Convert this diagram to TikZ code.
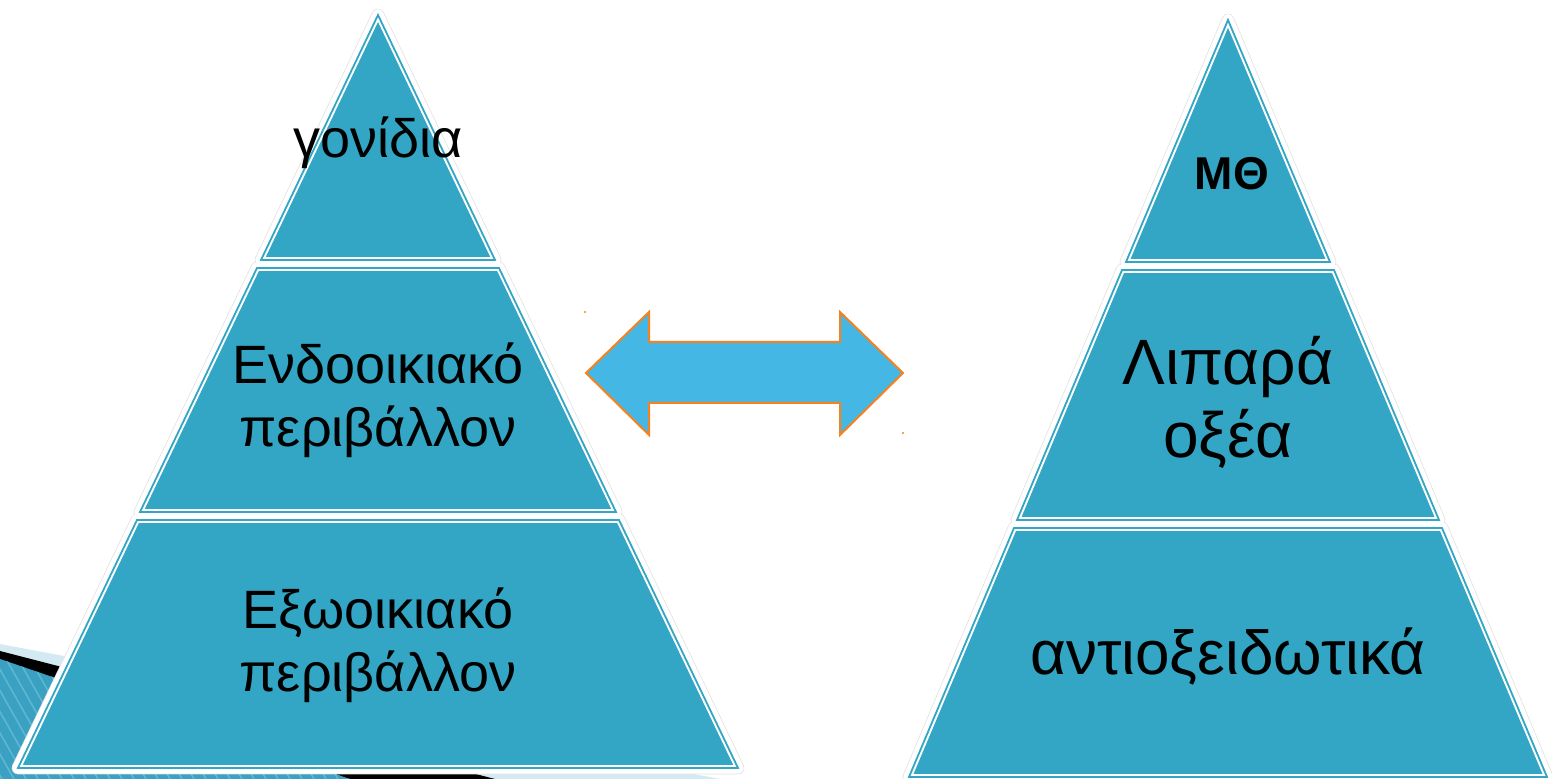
\documentclass[tikz,border=0pt]{standalone}
\usepackage{fontspec}
\setmainfont{Liberation Sans}
\usepackage{xcolor}
\usetikzlibrary{positioning}
\definecolor{cTeal}{HTML}{32A6C4}
\definecolor{cArrow}{HTML}{45B7E4}
\definecolor{cEdge}{HTML}{F5821F}
\definecolor{cStripe}{HTML}{3AA1C2}
\definecolor{cStripeHi}{HTML}{5DB7D3}
\definecolor{cPale}{HTML}{D4EAF2}
\definecolor{cInk}{HTML}{000000}
\tikzset{
  halo/.style  = {draw=black!11, line width=6.4pt, line join=round},
  band/.style  = {draw=white, line width=5.6pt, line join=round},
  seg/.style   = {fill=cTeal, draw=white, line width=1pt,
                  double=cTeal, double distance=0.9pt},
  lbl/.style   = {font=\fontsize{27}{31.5}\selectfont, text=cInk,
                  align=center, inner sep=0pt},
  lblbold/.style = {lbl, font=\fontsize{23}{27}\selectfont\bfseries},
  lblbig/.style  = {lbl, font=\fontsize{32}{36.5}\selectfont},
  lblwide/.style = {lbl, font=\fontsize{31}{36}\selectfont},
  dblarrow/.style = {fill=cArrow, draw=cEdge, line width=1pt,
                     line join=miter},
  stripe/.style = {draw=cStripeHi, line width=0.8pt},
}
\begin{document}
\begin{tikzpicture}[x=0.5pt, y=-0.5pt]
  \useasboundingbox (0,0) rectangle (1552,779);
  % slide decoration, bottom left
  \fill[cPale] (0,644) -- (720,779) -- (0,779) -- cycle;
  \fill[black] (0,651) -- (495,779) -- (0,779) -- cycle;
  \begin{scope}
    \clip (0,659) -- (350,779) -- (0,779) -- cycle;
    \fill[cStripe] (0,640) rectangle (360,779);
    \foreach \i in {-100,-88,...,380} \draw[stripe] (\i,620) -- (\i+90,779);
  \end{scope}
  % left pyramid
  \coordinate (LtA) at (378,15);
  \coordinate (LtL) at (261,260);  \coordinate (LtR) at (495,260);
  \coordinate (LmL) at (257,268);  \coordinate (LmR) at (499,268);
  \coordinate (LmBL) at (140,512); \coordinate (LmBR) at (616,512);
  \coordinate (LbL) at (137,520);  \coordinate (LbR) at (619,520);
  \coordinate (LbBL) at (18,768);  \coordinate (LbBR) at (738,768);
  % right pyramid
  \coordinate (RtA) at (1228,20);
  \coordinate (RtL) at (1126,262);  \coordinate (RtR) at (1330,262);
  \coordinate (RmL) at (1122,270);  \coordinate (RmR) at (1334,270);
  \coordinate (RmBL) at (1017,520); \coordinate (RmBR) at (1439,520);
  \coordinate (RbL) at (1014,528);  \coordinate (RbR) at (1442,528);
  \coordinate (RbBL) at (909,777);  \coordinate (RbBR) at (1547,777);
  \foreach \st in {halo,band,seg} {
    \draw[\st] (LtA) -- (LtR) -- (LtL) -- cycle;
    \draw[\st] (LmL) -- (LmR) -- (LmBR) -- (LmBL) -- cycle;
    \draw[\st] (LbL) -- (LbR) -- (LbBR) -- (LbBL) -- cycle;
    \draw[\st] (RtA) -- (RtR) -- (RtL) -- cycle;
    \draw[\st] (RmL) -- (RmR) -- (RmBR) -- (RmBL) -- cycle;
    \draw[\st] (RbL) -- (RbR) -- (RbBR) -- (RbBL) -- cycle;
  }
  \node[lbl, anchor=base] (genes) at (378,158) {γονίδια};
  \node[lbl] (endo) at (378,400) {Ενδοοικιακό\\περιβάλλον};
  \node[lbl] (exo) at (378,645) {Εξωοικιακό\\περιβάλλον};
  \node[lblbold, anchor=base] (mth) at (1232,190) {ΜΘ};
  \node[lblbig] (fat) at (1228,402) {Λιπαρά\\οξέα};
  \node[lblwide, anchor=base] (antiox) at (1228,675) {αντιοξειδωτικά};
  % double arrow between the pyramids
  \draw[dblarrow] (586,373) -- (649,312) -- (649,342) -- (840,342)
    -- (840,312) -- (903,373) -- (840,435) -- (840,403) -- (649,403)
    -- (649,435) -- cycle;
  \fill[cEdge] (585,312) circle (1.2);
  \fill[cEdge] (903,433) circle (1.2);
\end{tikzpicture}
\end{document}
